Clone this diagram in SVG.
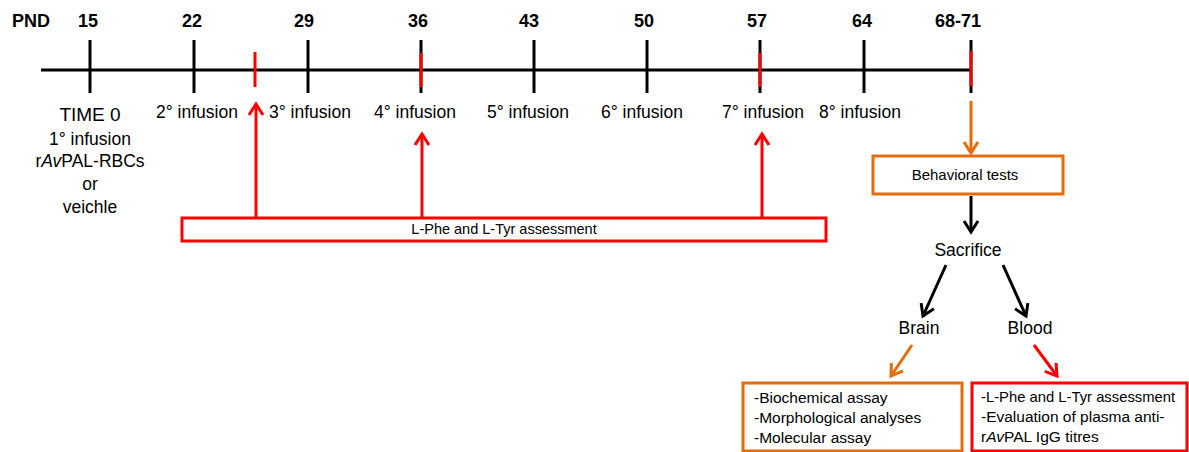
<svg xmlns="http://www.w3.org/2000/svg" width="1189" height="452" viewBox="0 0 1189 452">
<style>
text{font-family:"Liberation Sans",Arial,sans-serif;fill:#000}
.num{font-size:18px;font-weight:bold;text-anchor:middle}
.inf{font-size:17.5px;text-anchor:middle}
.mid{text-anchor:middle}
.tk{stroke:#000;stroke-width:3}
.rt{stroke:#ff0000;stroke-width:3}
.box{fill:#fff;stroke-width:3}
.red{stroke:#ff0000}
.org{stroke:#e46c0a}
.ln{fill:none;stroke-width:3}
.bt{font-size:15.5px}
</style>
<defs>
<marker id="hr" markerUnits="userSpaceOnUse" markerWidth="30" markerHeight="30" refX="0" refY="0" orient="auto" overflow="visible"><path d="M-11,-7 L0,0 L-11,7" fill="none" stroke="#ff0000" stroke-width="3"/></marker>
<marker id="ho" markerUnits="userSpaceOnUse" markerWidth="30" markerHeight="30" refX="0" refY="0" orient="auto" overflow="visible"><path d="M-11,-7 L0,0 L-11,7" fill="none" stroke="#e46c0a" stroke-width="3"/></marker>
<marker id="hk" markerUnits="userSpaceOnUse" markerWidth="30" markerHeight="30" refX="0" refY="0" orient="auto" overflow="visible"><path d="M-11,-7 L0,0 L-11,7" fill="none" stroke="#000" stroke-width="3"/></marker>
</defs>

<g id="timeline">
<line x1="41" y1="70" x2="971" y2="70" class="tk"/>
<line x1="90" y1="40" x2="90" y2="93" class="tk"/>
<line x1="194" y1="40" x2="194" y2="93" class="tk"/>
<line x1="308" y1="40" x2="308" y2="93" class="tk"/>
<line x1="421" y1="40" x2="421" y2="93" class="tk"/>
<line x1="534" y1="40" x2="534" y2="93" class="tk"/>
<line x1="647" y1="40" x2="647" y2="93" class="tk"/>
<line x1="760" y1="40" x2="760" y2="93" class="tk"/>
<line x1="864" y1="40" x2="864" y2="93" class="tk"/>
<line x1="971" y1="40" x2="971" y2="93" class="tk"/>
<line x1="255" y1="52" x2="255" y2="87" class="rt"/>
<line x1="421" y1="53" x2="421" y2="87" class="rt"/>
<line x1="760" y1="53" x2="760" y2="87" class="rt"/>
<line x1="971" y1="51" x2="971" y2="86" class="rt"/>
<text x="31" y="27" class="num" font-size="17">PND</text>
<text x="88" y="27" class="num">15</text>
<text x="192" y="27" class="num">22</text>
<text x="304" y="27" class="num">29</text>
<text x="418" y="27" class="num">36</text>
<text x="529" y="27" class="num">43</text>
<text x="644" y="27" class="num">50</text>
<text x="757" y="27" class="num">57</text>
<text x="862" y="27" class="num">64</text>
<text x="958" y="27" class="num">68-71</text>
</g>

<g id="labels">
<text x="90" y="121" class="mid" font-size="19">TIME 0</text>
<text x="90" y="145" class="inf">1° infusion</text>
<text x="90" y="167" class="inf">r<tspan font-style="italic">Av</tspan>PAL-RBCs</text>
<text x="90" y="190" class="inf">or</text>
<text x="90" y="213" class="inf">veichle</text>
<text x="197" y="118" class="inf">2° infusion</text>
<text x="310" y="118" class="inf">3° infusion</text>
<text x="415" y="118" class="inf">4° infusion</text>
<text x="528" y="118" class="inf">5° infusion</text>
<text x="642" y="118" class="inf">6° infusion</text>
<text x="763" y="118" class="inf">7° infusion</text>
<text x="860" y="118" class="inf">8° infusion</text>
</g>

<g id="connectors">
<line x1="256" y1="217" x2="256" y2="104" class="ln red" marker-end="url(#hr)"/>
<line x1="422" y1="217" x2="422" y2="134" class="ln red" marker-end="url(#hr)"/>
<line x1="762" y1="217" x2="762" y2="134" class="ln red" marker-end="url(#hr)"/>
<line x1="971" y1="101" x2="971" y2="153" class="ln org" marker-end="url(#ho)"/>
<line x1="971" y1="196" x2="971" y2="232" class="ln" stroke="#000" marker-end="url(#hk)"/>
<line x1="946" y1="265" x2="923" y2="316" class="ln" stroke="#000" marker-end="url(#hk)"/>
<line x1="1003" y1="265" x2="1026" y2="316" class="ln" stroke="#000" marker-end="url(#hk)"/>
<line x1="912" y1="345" x2="891" y2="376" class="ln org" marker-end="url(#ho)"/>
<line x1="1034" y1="345" x2="1057" y2="376" class="ln red" marker-end="url(#hr)"/>
</g>

<g id="phe-tyr-box">
<rect x="182" y="218" width="644" height="23" class="box red"/>
<text x="504" y="234" class="mid" font-size="14.5">L-Phe and L-Tyr assessment</text>
</g>

<g id="behavioral-tests">
<rect x="873" y="156" width="190" height="38" class="box org"/>
<text x="965" y="180" class="mid" font-size="15">Behavioral tests</text>
</g>

<g id="sacrifice">
<text x="968" y="256" class="mid" font-size="17.5">Sacrifice</text>
</g>

<g id="brain">
<text x="919" y="334" class="mid" font-size="17.5">Brain</text>
</g>

<g id="blood">
<text x="1030" y="334" class="mid" font-size="17.5">Blood</text>
</g>

<g id="brain-analyses">
<rect x="743" y="383" width="219" height="68" class="box org"/>
<text x="754" y="403" class="bt">-Biochemical assay</text>
<text x="754" y="423" class="bt">-Morphological analyses</text>
<text x="754" y="443" class="bt">-Molecular assay</text>
</g>

<g id="blood-analyses">
<rect x="972" y="383" width="215" height="68" class="box red"/>
<text x="981" y="402" class="bt" font-size="15" style="font-size:14.8px">-L-Phe and L-Tyr assessment</text>
<text x="981" y="422" class="bt">-Evaluation of plasma anti-</text>
<text x="981" y="442" class="bt">r<tspan font-style="italic">Av</tspan>PAL IgG titres</text>
</g>
</svg>
